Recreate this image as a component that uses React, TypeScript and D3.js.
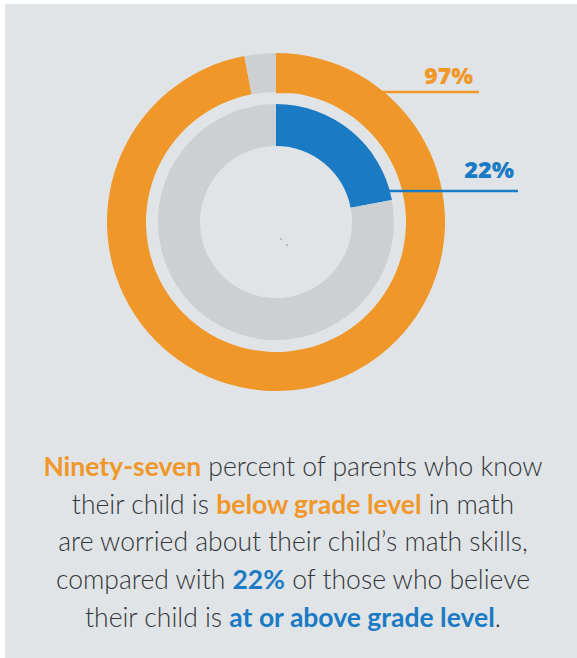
import React, { useRef, useEffect } from 'react';
import * as d3 from 'd3';

// ring values (percent)
const outerValues = [97, 3];
const innerValues = [22, 78];
const outerColors = ['#f0972a', '#ccd0d3'];
const innerColors = ['#1a7bc4', '#ccd0d3'];
const labels = ['97%', '22%'];

// caption lines: [text, style] pieces
const caption: [string, string][][] = [
  [['Ninety-seven', 'o'], [' percent of parents who know', 'n']],
  [['their child is ', 'n'], ['below grade level', 'o'], [' in math', 'n']],
  [['are worried about their child\u2019s math skills,', 'n']],
  [['compared with ', 'n'], ['22%', 'b'], [' of those who believe', 'n']],
  [['their child is ', 'n'], ['at or above grade level', 'b'], ['.', 'n']],
];

const W = 577;
const H = 658;

const App: React.FC = () => {
  const svgRef = useRef<SVGSVGElement>(null);

  useEffect(() => {
    const svg = d3.select(svgRef.current);
    svg.selectAll('*').remove();

    svg.append('rect').attr('x', 5).attr('y', 4).attr('width', W - 5).attr('height', H - 4).attr('fill', '#e1e4e7');

    const cx = 276;
    const cy = 222;
    const g = svg.append('g').attr('transform', `translate(${cx},${cy})`);

    const pie = d3.pie<number>().value((d) => d).sort(null);
    const outerArc = d3.arc<d3.PieArcDatum<number>>().innerRadius(130).outerRadius(169);
    const innerArc = d3.arc<d3.PieArcDatum<number>>().innerRadius(76).outerRadius(118);

    // orange leader line sits behind the ring
    svg.append('line').attr('x1', cx).attr('x2', 479).attr('y1', 92).attr('y2', 92)
      .attr('stroke', outerColors[0]).attr('stroke-width', 2.5);

    g.selectAll('path.outer').data(pie(outerValues)).enter().append('path')
      .attr('class', 'outer').attr('d', outerArc).attr('fill', (_, i) => outerColors[i]);
    g.selectAll('path.inner').data(pie(innerValues)).enter().append('path')
      .attr('class', 'inner').attr('d', innerArc).attr('fill', (_, i) => innerColors[i]);

    // blue leader line drawn over the rings
    svg.append('line').attr('x1', 386).attr('x2', 518).attr('y1', 191).attr('y2', 191)
      .attr('stroke', innerColors[0]).attr('stroke-width', 2.5);

    const labelFont = '"Open Sans", Lato, sans-serif';
    svg.append('text').attr('x', 473).attr('y', 84).attr('text-anchor', 'end')
      .attr('font-family', labelFont).attr('font-weight', 800).attr('font-size', 23)
      .attr('fill', outerColors[0]).text(labels[0]);
    svg.append('text').attr('x', 514).attr('y', 178).attr('text-anchor', 'end')
      .attr('font-family', labelFont).attr('font-weight', 800).attr('font-size', 23.5)
      .attr('fill', innerColors[0]).text(labels[1]);

    // tiny center dots
    svg.append('circle').attr('cx', 281).attr('cy', 239).attr('r', 1.2).attr('fill', '#b9bdc0');
    svg.append('circle').attr('cx', 287).attr('cy', 245).attr('r', 1.2).attr('fill', '#b9bdc0');

    const colorMap: Record<string, string> = { n: '#333639', o: '#f0972a', b: '#1a7bc4' };
    caption.forEach((line, i) => {
      const t = svg.append('text').attr('x', 293).attr('y', 476 + i * 37.7)
        .attr('text-anchor', 'middle').attr('font-family', 'Lato, sans-serif').attr('font-size', 26.5);
      line.forEach(([s, k]) => {
        t.append('tspan').attr('fill', colorMap[k]).attr('font-weight', k === 'n' ? 300 : 700).text(s);
      });
    });
  }, []);

  return <svg ref={svgRef} width={W} height={H} style={{ position: 'absolute', left: 0, top: 0 }} />;
};

export default App;
